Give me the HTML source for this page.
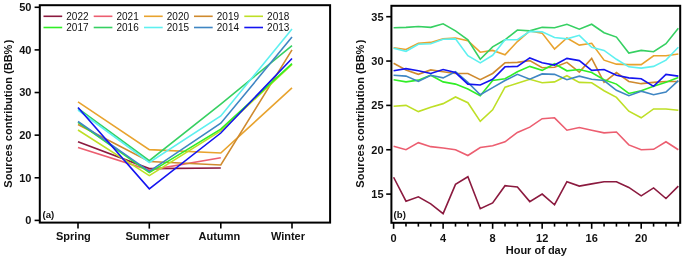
<!DOCTYPE html>
<html><head><meta charset="utf-8"><style>
html,body{margin:0;padding:0;background:#fff;}
body{width:685px;height:257px;overflow:hidden;}
svg{display:block;will-change:transform;}
text{font-family:"Liberation Sans",sans-serif;fill:#111;}
.b{font-weight:bold;}
</style></head><body>
<svg width="685" height="257" viewBox="0 0 685 257">
<rect x="0" y="0" width="685" height="257" fill="#fff"/>

<g fill="none" stroke-width="1.6" stroke-linejoin="miter" stroke-linecap="butt">
<polyline stroke="#8B1A3F" points="78,141.76 149.3,168.61 220.8,167.97"/>
<polyline stroke="#EC5E70" points="78,147.51 149.3,170.1 220.8,157.74"/>
<polyline stroke="#E8A32E" points="78,101.9 149.3,149.64 220.8,153.05 292,87.84"/>
<polyline stroke="#CF8A2E" points="78,124.49 149.3,161.58 220.8,164.99 292,49.9"/>
<polyline stroke="#BEDF26" points="78,130.04 149.3,175.64 220.8,130.89 292,64.39"/>
<polyline stroke="#30EE26" points="78,122.36 149.3,172.66 220.8,129.18 292,63.54"/>
<polyline stroke="#36D062" points="78,108.3 149.3,160.72 220.8,104.03 292,45.64"/>
<polyline stroke="#5EF0F0" points="78,110 149.3,162.43 220.8,115.97 292,29.01"/>
<polyline stroke="#3F86C3" points="78,121.51 149.3,171.38 220.8,123.22 292,37.11"/>
<polyline stroke="#1414F0" points="78,107.44 149.3,188.86 220.8,133.02 292,58.43"/>
</g>
<g fill="none" stroke-width="1.6" stroke-linejoin="miter" stroke-linecap="butt">
<polyline stroke="#8B1A3F" points="393.6,177.25 405.98,201.2 418.36,196.76 430.74,203.86 443.12,213.61 455.5,184.34 467.88,176.8 480.26,208.74 492.64,202.97 505.02,185.67 517.4,187 529.78,201.64 542.16,194.1 554.54,204.74 566.92,181.68 579.3,186.12 591.68,183.9 604.06,181.68 616.44,181.68 628.82,187.45 641.2,195.87 653.58,187.89 665.96,198.53 678.34,186.12"/>
<polyline stroke="#EC5E70" points="393.6,146.2 405.98,149.75 418.36,142.65 430.74,146.65 443.12,147.98 455.5,149.75 467.88,155.52 480.26,147.53 492.64,145.76 505.02,141.77 517.4,132.45 529.78,127.13 542.16,118.7 554.54,117.82 566.92,130.24 579.3,127.57 591.68,130.24 604.06,132.9 616.44,132.01 628.82,144.87 641.2,149.75 653.58,149.31 665.96,141.77 678.34,149.75"/>
<polyline stroke="#E8A32E" points="393.6,47.74 405.98,49.52 418.36,43.31 430.74,42.42 443.12,38.88 455.5,37.99 467.88,40.65 480.26,52.18 492.64,50.41 505.02,54.84 517.4,41.54 529.78,30.89 542.16,33.11 554.54,49.08 566.92,37.99 579.3,45.08 591.68,43.31 604.06,60.16 616.44,64.15 628.82,64.6 641.2,64.6 653.58,55.73 665.96,55.73 678.34,53.95"/>
<polyline stroke="#CF8A2E" points="393.6,63.18 405.98,69.92 418.36,74.35 430.74,69.92 443.12,71.69 455.5,73.47 467.88,73.47 480.26,79.68 492.64,73.47 505.02,62.82 517.4,62.38 529.78,60.61 542.16,67.7 554.54,67.26 566.92,62.38 579.3,72.14 591.68,58.39 604.06,82.34 616.44,72.58 628.82,81.45 641.2,83.67 653.58,82.34 665.96,81.45 678.34,81.45"/>
<polyline stroke="#BEDF26" points="393.6,106.29 405.98,105.4 418.36,111.61 430.74,107.17 443.12,103.63 455.5,96.97 467.88,102.74 480.26,121.37 492.64,109.83 505.02,87.22 517.4,83.22 529.78,79.23 542.16,82.78 554.54,81.89 566.92,75.69 579.3,82.34 591.68,82.78 604.06,90.76 616.44,97.42 628.82,111.17 641.2,117.82 653.58,108.95 665.96,108.95 678.34,110.28"/>
<polyline stroke="#30EE26" points="393.6,79.68 405.98,81.89 418.36,80.12 430.74,75.24 443.12,81.89 455.5,84.11 467.88,88.99 480.26,95.64 492.64,80.56 505.02,78.79 517.4,71.69 529.78,66.37 542.16,70.36 554.54,63.71 566.92,70.81 579.3,69.48 591.68,72.58 604.06,79.68 616.44,84.11 628.82,93.43 641.2,90.76 653.58,86.33 665.96,82.34 678.34,77.46"/>
<polyline stroke="#36D062" points="393.6,27.79 405.98,27.34 418.36,26.46 430.74,27.34 443.12,23.8 455.5,30.89 467.88,39.76 480.26,59.28 492.64,46.86 505.02,39.76 517.4,30 529.78,30.89 542.16,27.34 554.54,27.79 566.92,24.24 579.3,29.12 591.68,24.24 604.06,32.67 616.44,37.1 628.82,53.07 641.2,50.41 653.58,51.74 665.96,43.75 678.34,28.23"/>
<polyline stroke="#5EF0F0" points="393.6,48.19 405.98,51.29 418.36,44.2 430.74,43.75 443.12,39.32 455.5,38.88 467.88,55.73 480.26,62.82 492.64,55.28 505.02,39.76 517.4,39.76 529.78,31.34 542.16,31.78 554.54,37.54 566.92,38.88 579.3,35.33 591.68,47.3 604.06,50.41 616.44,59.28 628.82,66.82 641.2,68.15 653.58,66.37 665.96,60.16 678.34,47.3"/>
<polyline stroke="#3F86C3" points="393.6,75.24 405.98,76.13 418.36,81.45 430.74,75.24 443.12,77.9 455.5,71.69 467.88,82.34 480.26,94.76 492.64,87.66 505.02,80.56 517.4,74.35 529.78,79.23 542.16,73.91 554.54,74.35 566.92,79.68 579.3,76.13 591.68,79.23 604.06,80.56 616.44,90.32 628.82,95.64 641.2,91.21 653.58,94.76 665.96,92.09 678.34,80.56"/>
<polyline stroke="#1414F0" points="393.6,70.81 405.98,68.59 418.36,70.81 430.74,73.47 443.12,69.48 455.5,72.58 467.88,84.11 480.26,85 492.64,79.23 505.02,66.82 517.4,66.37 529.78,57.95 542.16,62.82 554.54,65.04 566.92,58.39 579.3,60.61 591.68,70.36 604.06,69.48 616.44,75.24 628.82,77.9 641.2,78.79 653.58,86.33 665.96,74.35 678.34,76.13"/>
</g>
<g stroke="#000" stroke-width="2" fill="none">
<rect x="39.8" y="5.2" width="290.3" height="217.4"/>
<line x1="34.6" y1="220.4" x2="39.8" y2="220.4" stroke-width="1.6"/>
<line x1="34.6" y1="177.78" x2="39.8" y2="177.78" stroke-width="1.6"/>
<line x1="34.6" y1="135.15" x2="39.8" y2="135.15" stroke-width="1.6"/>
<line x1="34.6" y1="92.53" x2="39.8" y2="92.53" stroke-width="1.6"/>
<line x1="34.6" y1="49.9" x2="39.8" y2="49.9" stroke-width="1.6"/>
<line x1="34.6" y1="7.28" x2="39.8" y2="7.28" stroke-width="1.6"/>
<line x1="78.0" y1="222.6" x2="78.0" y2="228.6" stroke-width="1.6"/>
<line x1="149.3" y1="222.6" x2="149.3" y2="228.6" stroke-width="1.6"/>
<line x1="220.8" y1="222.6" x2="220.8" y2="228.6" stroke-width="1.6"/>
<line x1="292.0" y1="222.6" x2="292.0" y2="228.6" stroke-width="1.6"/>
</g>
<text class="b" x="31.4" y="224.3" font-size="11" text-anchor="end">0</text>
<text class="b" x="31.4" y="181.68" font-size="11" text-anchor="end">10</text>
<text class="b" x="31.4" y="139.05" font-size="11" text-anchor="end">20</text>
<text class="b" x="31.4" y="96.43" font-size="11" text-anchor="end">30</text>
<text class="b" x="31.4" y="53.8" font-size="11" text-anchor="end">40</text>
<text class="b" x="31.4" y="11.18" font-size="11" text-anchor="end">50</text>
<text class="b" x="56.0" y="239.7" font-size="11">Spring</text>
<text class="b" x="125.5" y="239.7" font-size="11">Summer</text>
<text class="b" x="198.6" y="239.7" font-size="11">Autumn</text>
<text class="b" x="270.9" y="239.7" font-size="11">Winter</text>
<text class="b" font-size="11" text-anchor="middle" transform="translate(11.6,113.6) rotate(-90)">Sources contribution (BB%<tspan dx="1.4">)</tspan></text>
<text class="b" x="42.6" y="217.9" font-size="9.6">(a)</text>
<line x1="43.5" y1="16.3" x2="62.2" y2="16.3" stroke="#8B1A3F" stroke-width="1.6"/>
<text x="66.3" y="19.6" font-size="10" fill="#222">2022</text>
<line x1="93.7" y1="16.3" x2="112.4" y2="16.3" stroke="#EC5E70" stroke-width="1.6"/>
<text x="116.5" y="19.6" font-size="10" fill="#222">2021</text>
<line x1="144.0" y1="16.3" x2="162.7" y2="16.3" stroke="#E8A32E" stroke-width="1.6"/>
<text x="166.8" y="19.6" font-size="10" fill="#222">2020</text>
<line x1="194.0" y1="16.3" x2="212.7" y2="16.3" stroke="#CF8A2E" stroke-width="1.6"/>
<text x="216.8" y="19.6" font-size="10" fill="#222">2019</text>
<line x1="244.3" y1="16.3" x2="263" y2="16.3" stroke="#BEDF26" stroke-width="1.6"/>
<text x="267.1" y="19.6" font-size="10" fill="#222">2018</text>
<line x1="43.5" y1="27.5" x2="62.2" y2="27.5" stroke="#30EE26" stroke-width="1.6"/>
<text x="66.3" y="31.1" font-size="10" fill="#222">2017</text>
<line x1="93.7" y1="27.5" x2="112.4" y2="27.5" stroke="#36D062" stroke-width="1.6"/>
<text x="116.5" y="31.1" font-size="10" fill="#222">2016</text>
<line x1="144.0" y1="27.5" x2="162.7" y2="27.5" stroke="#5EF0F0" stroke-width="1.6"/>
<text x="166.8" y="31.1" font-size="10" fill="#222">2015</text>
<line x1="194.0" y1="27.5" x2="212.7" y2="27.5" stroke="#3F86C3" stroke-width="1.6"/>
<text x="216.8" y="31.1" font-size="10" fill="#222">2014</text>
<line x1="244.3" y1="27.5" x2="263" y2="27.5" stroke="#1414F0" stroke-width="1.6"/>
<text x="267.1" y="31.1" font-size="10" fill="#222">2013</text>
<g stroke="#000" stroke-width="2" fill="none">
<rect x="391.4" y="5.8" width="288.8" height="217"/>
<line x1="386.2" y1="194.1" x2="391.4" y2="194.1" stroke-width="1.6"/>
<line x1="386.2" y1="149.75" x2="391.4" y2="149.75" stroke-width="1.6"/>
<line x1="386.2" y1="105.4" x2="391.4" y2="105.4" stroke-width="1.6"/>
<line x1="386.2" y1="61.05" x2="391.4" y2="61.05" stroke-width="1.6"/>
<line x1="386.2" y1="16.7" x2="391.4" y2="16.7" stroke-width="1.6"/>
<line x1="393.6" y1="222.8" x2="393.6" y2="228.8" stroke-width="1.6"/>
<line x1="405.98" y1="222.8" x2="405.98" y2="226.6" stroke-width="1.6"/>
<line x1="418.36" y1="222.8" x2="418.36" y2="226.6" stroke-width="1.6"/>
<line x1="430.74" y1="222.8" x2="430.74" y2="226.6" stroke-width="1.6"/>
<line x1="443.12" y1="222.8" x2="443.12" y2="228.8" stroke-width="1.6"/>
<line x1="455.5" y1="222.8" x2="455.5" y2="226.6" stroke-width="1.6"/>
<line x1="467.88" y1="222.8" x2="467.88" y2="226.6" stroke-width="1.6"/>
<line x1="480.26" y1="222.8" x2="480.26" y2="226.6" stroke-width="1.6"/>
<line x1="492.64" y1="222.8" x2="492.64" y2="228.8" stroke-width="1.6"/>
<line x1="505.02" y1="222.8" x2="505.02" y2="226.6" stroke-width="1.6"/>
<line x1="517.4" y1="222.8" x2="517.4" y2="226.6" stroke-width="1.6"/>
<line x1="529.78" y1="222.8" x2="529.78" y2="226.6" stroke-width="1.6"/>
<line x1="542.16" y1="222.8" x2="542.16" y2="228.8" stroke-width="1.6"/>
<line x1="554.54" y1="222.8" x2="554.54" y2="226.6" stroke-width="1.6"/>
<line x1="566.92" y1="222.8" x2="566.92" y2="226.6" stroke-width="1.6"/>
<line x1="579.3" y1="222.8" x2="579.3" y2="226.6" stroke-width="1.6"/>
<line x1="591.68" y1="222.8" x2="591.68" y2="228.8" stroke-width="1.6"/>
<line x1="604.06" y1="222.8" x2="604.06" y2="226.6" stroke-width="1.6"/>
<line x1="616.44" y1="222.8" x2="616.44" y2="226.6" stroke-width="1.6"/>
<line x1="628.82" y1="222.8" x2="628.82" y2="226.6" stroke-width="1.6"/>
<line x1="641.2" y1="222.8" x2="641.2" y2="228.8" stroke-width="1.6"/>
<line x1="653.58" y1="222.8" x2="653.58" y2="226.6" stroke-width="1.6"/>
<line x1="665.96" y1="222.8" x2="665.96" y2="226.6" stroke-width="1.6"/>
<line x1="678.34" y1="222.8" x2="678.34" y2="226.6" stroke-width="1.6"/>
</g>
<text class="b" x="383.6" y="198" font-size="11" text-anchor="end">15</text>
<text class="b" x="383.6" y="153.65" font-size="11" text-anchor="end">20</text>
<text class="b" x="383.6" y="109.3" font-size="11" text-anchor="end">25</text>
<text class="b" x="383.6" y="64.95" font-size="11" text-anchor="end">30</text>
<text class="b" x="383.6" y="20.6" font-size="11" text-anchor="end">35</text>
<text class="b" x="393.6" y="241.6" font-size="11" text-anchor="middle">0</text>
<text class="b" x="443.12" y="241.6" font-size="11" text-anchor="middle">4</text>
<text class="b" x="492.64" y="241.6" font-size="11" text-anchor="middle">8</text>
<text class="b" x="542.16" y="241.6" font-size="11" text-anchor="middle">12</text>
<text class="b" x="591.68" y="241.6" font-size="11" text-anchor="middle">16</text>
<text class="b" x="641.2" y="241.6" font-size="11" text-anchor="middle">20</text>
<text class="b" x="536.3" y="254.1" font-size="11" text-anchor="middle">Hour of day</text>
<text class="b" font-size="11" text-anchor="middle" transform="translate(363.6,113.6) rotate(-90)">Sources contribution (BB%<tspan dx="1.4">)</tspan></text>
<text class="b" x="393.6" y="217.9" font-size="9.6">(b)</text>
</svg></body></html>
